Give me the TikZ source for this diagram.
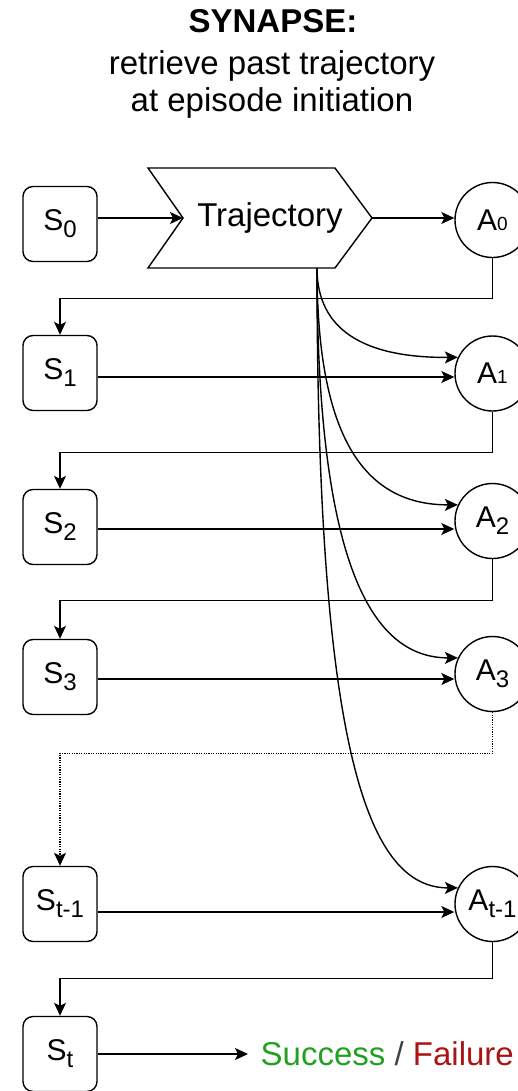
\documentclass[tikz,border=0pt]{standalone}
\usepackage{fontspec}
\setmainfont{Liberation Sans}
\usetikzlibrary{arrows.meta}
\definecolor{succ}{RGB}{34,160,34}
\definecolor{fail}{RGB}{170,20,20}
\newcommand{\lo}[1]{\raisebox{-7pt}{\fontsize{24}{24}\selectfont #1}}
\newcommand{\sm}[1]{{\fontsize{19}{19}\selectfont #1}}
\begin{document}
\begin{tikzpicture}[x=1pt,y=-1pt,line width=1.4pt,
  arr/.style={-{Stealth[length=13pt,width=12pt,inset=3pt]}},
  sbox/.style={draw,rounded corners=10pt,minimum width=74pt,minimum height=75pt,inner sep=0pt,font=\fontsize{30}{30}\selectfont},
  abox/.style={draw,circle,minimum size=75pt,inner sep=0pt,font=\fontsize{30}{30}\selectfont},
  txt/.style={inner sep=0pt,font=\fontsize{33}{40}\selectfont},
  dots/.style={line width=1.1pt,dash pattern=on 1.2pt off 1.2pt}]
\path[use as bounding box] (0,0) rectangle (518,1091);
\clip (0,0) rectangle (518,1091);
% title
\node[txt,anchor=base,font=\fontsize{33}{40}\selectfont\bfseries] (t1) at (273,33) {SYNAPSE:};
\node[txt,anchor=base] (t2) at (272,75) {retrieve past trajectory};
\node[txt,anchor=base] (t3) at (272,112) {at episode initiation};
% trajectory shape
\draw (148,168) -- (335,168) -- (372,218) -- (335,268) -- (148,268) -- (183,218) -- cycle;
\node[txt] (traj) at (270,218) {Trajectory};
\coordinate (trajin) at (183,218);
\coordinate (trajout) at (372,218);
\coordinate (trajb) at (317,268);
% state nodes
\node[sbox] (s0) at (60,224) {S\lo{0}};
\node[sbox] (s1) at (60,373) {S\lo{1}};
\node[sbox] (s2) at (60,527) {S\lo{2}};
\node[sbox] (s3) at (60,677) {S\lo{3}};
\node[sbox] (st1) at (60,904) {S\lo{t-1}};
\node[sbox] (st) at (60,1054) {S\lo{t}};
% action nodes
\node[abox] (a0) at (492.5,220) {A\sm{0}};
\node[abox] (a1) at (492.5,373.5) {A\sm{1}};
\node[abox] (a2) at (492.5,521) {A\lo{2}};
\node[abox] (a3) at (492.5,674) {A\lo{3}};
\node[abox] (at1) at (492.5,904) {A\lo{t-1}};
% result
\node[txt,anchor=base west,inner xsep=12pt] (res) at (248,1065) {\textcolor{succ}{Success} \textcolor{black!75}{/} \textcolor{fail}{Failure}};
% straight arrows
\draw[arr] (s0.east |- trajin) -- (trajin);
\draw[arr] (trajout) -- (trajout -| a0.west);
\draw[arr] ([yshift=-4pt]s1.east) -- ([yshift=-4pt]s1.east -| a1.west);
\draw[arr] ([yshift=-2pt]s2.east) -- ([yshift=-2pt]s2.east -| a2.west);
\draw[arr] ([yshift=-2pt]s3.east) -- ([yshift=-2pt]s3.east -| a3.west);
\draw[arr] ([yshift=-8pt]st1.east) -- ([yshift=-8pt]st1.east -| at1.west);
\draw[arr] (st.east) -- (st.east -| res.west);
% feedback lines
\draw[arr] (a0.south) -- ++(0,40) -| (s1.north);
\draw[arr] (a1.south) -- ++(0,41) -| (s2.north);
\draw[arr] (a2.south) -- ++(0,41.5) -| (s3.north);
\draw[arr,dots] (a3.south) -- ++(0,41) -| (st1.north);
\draw[arr] (at1.south) -- ++(0,36) -| (st.north);
% retrieved-trajectory curves
\draw[arr] (trajb) .. controls (317,320) and (350,358) .. (a1.155);
\draw[arr] (trajb) .. controls (317,430) and (360,505) .. (a2.155);
\draw[arr] (trajb) .. controls (317,560) and (370,658) .. (a3.155);
\draw[arr] (trajb) .. controls (317,760) and (370,888) .. (at1.155);
\end{tikzpicture}
\end{document}
